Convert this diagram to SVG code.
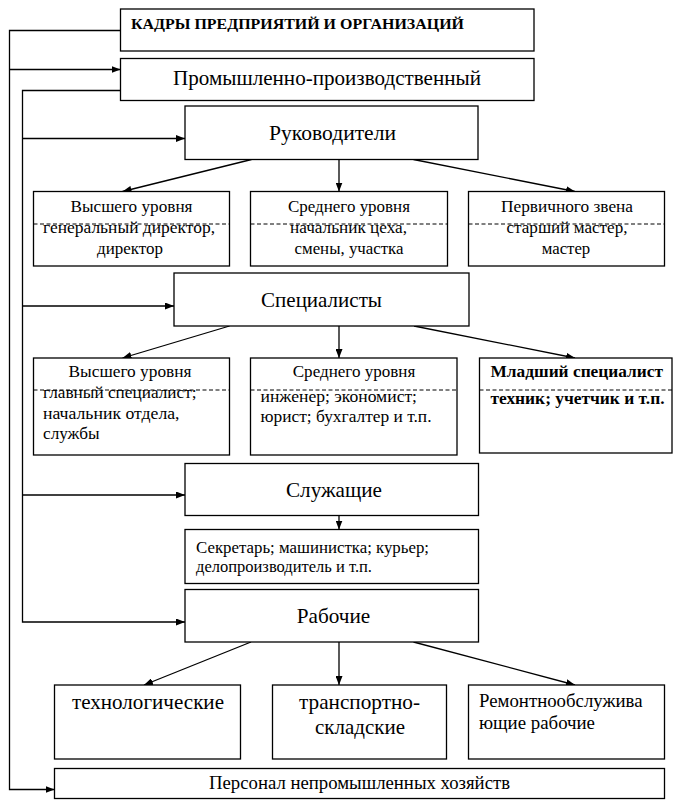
<svg xmlns="http://www.w3.org/2000/svg" width="673" height="806" viewBox="0 0 673 806" font-family="'Liberation Serif','Times New Roman',serif">
<style>
rect.b{fill:#fff;stroke:#000;stroke-width:1.3}
.dash{stroke:#000;stroke-width:1;stroke-dasharray:4 2.5}
.ln{fill:none;stroke:#000;stroke-width:1.3}
text{font-family:'Liberation Serif','Times New Roman',serif;fill:#000}
.big{font-size:21px}
.m{font-size:16px}
.l{font-size:19px}
.bd{font-weight:bold}
.c{text-anchor:middle}
</style>
<defs>
<marker id="ah" markerWidth="9" markerHeight="7" refX="9" refY="3.5" orient="auto" markerUnits="userSpaceOnUse"><path d="M0,0 L9,3.5 L0,7 z" fill="#000"/></marker>
</defs>
<rect width="673" height="806" fill="#fff"/>
<g id="connectors">
<polyline class="ln" points="120.5,30.5 9.5,30.5 9.5,789.5 54.5,789.5" marker-end="url(#ah)"/>
<line class="ln" x1="9.5" y1="69.5" x2="120.5" y2="69.5" marker-end="url(#ah)"/>
<polyline class="ln" points="120.5,90.5 22.5,90.5 22.5,622 185,622" marker-end="url(#ah)"/>
<line class="ln" x1="22.5" y1="138.5" x2="185" y2="138.5" marker-end="url(#ah)"/>
<line class="ln" x1="22.5" y1="306" x2="174" y2="306" marker-end="url(#ah)"/>
<line class="ln" x1="22.5" y1="495" x2="185" y2="495" marker-end="url(#ah)"/>
<line class="ln" x1="251.5" y1="159.5" x2="122.5" y2="191.5" marker-end="url(#ah)"/>
<line class="ln" x1="339" y1="159.5" x2="339" y2="191.5" marker-end="url(#ah)"/>
<line class="ln" x1="413.5" y1="159.5" x2="575" y2="191.5" marker-end="url(#ah)"/>
<line class="ln" x1="229.5" y1="326" x2="122.5" y2="358" marker-end="url(#ah)"/>
<line class="ln" x1="339" y1="326" x2="339" y2="358" marker-end="url(#ah)"/>
<line class="ln" x1="414" y1="326" x2="575" y2="358" marker-end="url(#ah)"/>
<line class="ln" x1="339" y1="515.5" x2="339" y2="529.5" marker-end="url(#ah)"/>
<line class="ln" x1="251" y1="642" x2="144" y2="685" marker-end="url(#ah)"/>
<line class="ln" x1="339" y1="642" x2="339" y2="685" marker-end="url(#ah)"/>
<line class="ln" x1="413.5" y1="642" x2="575" y2="685" marker-end="url(#ah)"/>
</g>
<g id="n-kadry">
<rect class="b" x="120.5" y="9" width="413.5" height="42"/>
<text class="bd" x="131" y="29" font-size="15" textLength="333" lengthAdjust="spacingAndGlyphs">КАДРЫ ПРЕДПРИЯТИЙ И ОРГАНИЗАЦИЙ</text>
</g>
<g id="n-prom">
<rect class="b" x="120.5" y="58.5" width="413.5" height="42"/>
<text class="big" x="173" y="85" textLength="308" lengthAdjust="spacingAndGlyphs">Промышленно-производственный</text>
</g>
<g id="n-ruk">
<rect class="b" x="185" y="106" width="293" height="53.5"/>
<text class="big c" x="332.5" y="139.5" textLength="127" lengthAdjust="spacingAndGlyphs">Руководители</text>
</g>
<g id="n-ruk-high">
<rect class="b" x="33.5" y="191.5" width="196" height="74.5"/>
<line class="dash" x1="33.5" y1="224" x2="229.5" y2="224"/>
<text class="m c" x="131.5" y="212" textLength="122" lengthAdjust="spacingAndGlyphs">Высшего уровня</text>
<text class="m c" x="129" y="232.5" textLength="172" lengthAdjust="spacingAndGlyphs">генеральный директор,</text>
<text class="m c" x="130" y="253.5" textLength="66" lengthAdjust="spacingAndGlyphs">директор</text>
</g>
<g id="n-ruk-mid">
<rect class="b" x="250.5" y="191.5" width="197" height="74.5"/>
<line class="dash" x1="250.5" y1="224" x2="447.5" y2="224"/>
<text class="m c" x="349" y="212" textLength="122" lengthAdjust="spacingAndGlyphs">Среднего уровня</text>
<text class="m c" x="348.5" y="232.5" textLength="117" lengthAdjust="spacingAndGlyphs">начальник цеха,</text>
<text class="m c" x="349" y="253.5" textLength="109" lengthAdjust="spacingAndGlyphs">смены, участка</text>
</g>
<g id="n-ruk-low">
<rect class="b" x="468.5" y="191.5" width="196" height="74.5"/>
<line class="dash" x1="468.5" y1="224" x2="664.5" y2="224"/>
<text class="m c" x="567" y="212" textLength="132" lengthAdjust="spacingAndGlyphs">Первичного звена</text>
<text class="m c" x="567" y="232.5" textLength="121" lengthAdjust="spacingAndGlyphs">старший мастер,</text>
<text class="m c" x="566" y="253.5" textLength="48.5" lengthAdjust="spacingAndGlyphs">мастер</text>
</g>
<g id="n-spec">
<rect class="b" x="174" y="273" width="295" height="53"/>
<text class="big c" x="321.5" y="306.5">Специалисты</text>
</g>
<g id="n-spec-high">
<rect class="b" x="33.5" y="358" width="196" height="97"/>
<line class="dash" x1="33.5" y1="390" x2="229.5" y2="390"/>
<text class="m c" x="130" y="377" textLength="123" lengthAdjust="spacingAndGlyphs">Высшего уровня</text>
<text class="m" x="43" y="398" textLength="153.5" lengthAdjust="spacingAndGlyphs">главный специалист;</text>
<text class="m" x="43" y="418.5" textLength="136.5" lengthAdjust="spacingAndGlyphs">начальник отдела,</text>
<text class="m" x="43" y="439" textLength="56.5" lengthAdjust="spacingAndGlyphs">службы</text>
</g>
<g id="n-spec-mid">
<rect class="b" x="250.5" y="358" width="206.5" height="97"/>
<line class="dash" x1="250.5" y1="390" x2="457" y2="390"/>
<text class="m c" x="354" y="377" textLength="122.5" lengthAdjust="spacingAndGlyphs">Среднего уровня</text>
<text class="m" x="260.5" y="401.5" textLength="156.5" lengthAdjust="spacingAndGlyphs">инженер; экономист;</text>
<text class="m" x="260.5" y="422" textLength="171" lengthAdjust="spacingAndGlyphs">юрист; бухгалтер и т.п.</text>
</g>
<g id="n-spec-low">
<rect class="b" x="479.5" y="358" width="192.5" height="95"/>
<line class="dash" x1="479.5" y1="390" x2="672" y2="390"/>
<text class="m bd" x="490.5" y="377" textLength="172.5" lengthAdjust="spacingAndGlyphs">Младший специалист</text>
<text class="m bd" x="490.5" y="404" textLength="174" lengthAdjust="spacingAndGlyphs">техник; учетчик и т.п.</text>
</g>
<g id="n-sluzh">
<rect class="b" x="185" y="463.5" width="293.5" height="52"/>
<text class="big c" x="334" y="497" textLength="96" lengthAdjust="spacingAndGlyphs">Служащие</text>
</g>
<g id="n-sekr">
<rect class="b" x="185" y="529.5" width="293.5" height="54"/>
<text class="m" x="196" y="552.5" textLength="233" lengthAdjust="spacingAndGlyphs">Секретарь; машинистка; курьер;</text>
<text class="m" x="196" y="572" textLength="176" lengthAdjust="spacingAndGlyphs">делопроизводитель и т.п.</text>
</g>
<g id="n-rab">
<rect class="b" x="185" y="589.5" width="293.5" height="52.5"/>
<text class="big c" x="333.5" y="622.5" textLength="73.5" lengthAdjust="spacingAndGlyphs">Рабочие</text>
</g>
<g id="n-tech">
<rect class="b" x="54.5" y="685" width="186" height="74"/>
<text class="big c" x="148" y="708.5" textLength="152" lengthAdjust="spacingAndGlyphs">технологические</text>
</g>
<g id="n-trans">
<rect class="b" x="272.5" y="685" width="174" height="74"/>
<text class="big c" x="359.5" y="708.5" textLength="121" lengthAdjust="spacingAndGlyphs">транспортно-</text>
<text class="big c" x="360" y="733.5" textLength="90" lengthAdjust="spacingAndGlyphs">складские</text>
</g>
<g id="n-remont">
<rect class="b" x="468.5" y="685" width="196" height="74"/>
<text class="l" x="479" y="707" textLength="163.5" lengthAdjust="spacingAndGlyphs">Ремонтнообслужива</text>
<text class="l" x="479" y="729" textLength="116" lengthAdjust="spacingAndGlyphs">ющие рабочие</text>
</g>
<g id="n-personal">
<rect class="b" x="54.5" y="768.5" width="610" height="30"/>
<text class="l c" x="359.5" y="788.5" textLength="301" lengthAdjust="spacingAndGlyphs">Персонал непромышленных хозяйств</text>
</g>
</svg>
